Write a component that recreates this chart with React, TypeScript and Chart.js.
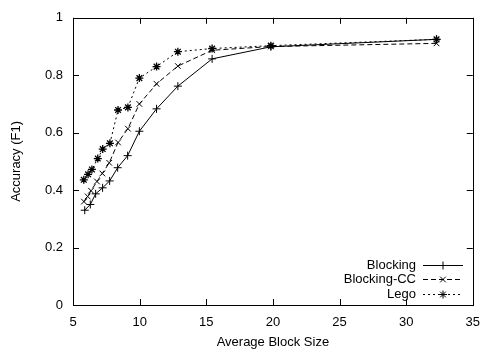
import React, { useEffect, useRef } from "react";
import { Chart, registerables } from "chart.js";

Chart.register(...registerables);

const seriesNames = ["Blocking", "Blocking-CC", "Lego"];

const blockingX = [5.88, 6.3, 6.7, 7.22, 7.75, 8.35, 9.1, 9.98, 11.27, 12.87, 15.44, 19.85, 32.28];
const blockingY = [0.33, 0.35, 0.387, 0.408, 0.432, 0.478, 0.52, 0.605, 0.683, 0.762, 0.857, 0.899, 0.925];

const blockingCCX = [5.82, 6.1, 6.35, 6.8, 7.2, 7.72, 8.38, 9.12, 9.98, 11.27, 12.87, 15.44, 19.85, 32.28];
const blockingCCY = [0.36, 0.378, 0.398, 0.43, 0.458, 0.495, 0.566, 0.614, 0.7, 0.77, 0.832, 0.887, 0.9, 0.911];

const legoX = [5.81, 6.13, 6.42, 6.86, 7.23, 7.77, 8.38, 9.12, 9.98, 11.27, 12.87, 15.44, 19.85, 32.28];
const legoY = [0.436, 0.455, 0.472, 0.51, 0.543, 0.563, 0.679, 0.688, 0.79, 0.83, 0.882, 0.893, 0.903, 0.925];

const xTicks = [5, 10, 15, 20, 25, 30, 35];
const yTicks = [0, 0.2, 0.4, 0.6, 0.8, 1];

const FONT = "'Liberation Sans', Arial, Helvetica, sans-serif";
const pointStyles = ["cross", "crossRot", "star"];
const dashes: number[][] = [[], [5, 3], [2, 3]];

function zip(xs: number[], ys: number[]) {
  return xs.map((x, i) => ({ x, y: ys[i] }));
}

function drawMarker(ctx: CanvasRenderingContext2D, style: string, x: number, y: number, r: number) {
  ctx.save();
  ctx.setLineDash([]);
  ctx.beginPath();
  if (style === "cross" || style === "star") {
    ctx.moveTo(x - r, y);
    ctx.lineTo(x + r, y);
    ctx.moveTo(x, y - r);
    ctx.lineTo(x, y + r);
  }
  if (style === "crossRot" || style === "star") {
    const d = r * Math.SQRT1_2;
    ctx.moveTo(x - d, y - d);
    ctx.lineTo(x + d, y + d);
    ctx.moveTo(x - d, y + d);
    ctx.lineTo(x + d, y - d);
  }
  ctx.stroke();
  ctx.restore();
}

const framePlugin = {
  id: "gnuFrame",
  afterDraw(chart: any) {
    const { ctx, chartArea: a, scales } = chart;
    ctx.save();
    ctx.strokeStyle = "#000";
    ctx.lineWidth = 1;
    ctx.setLineDash([]);
    ctx.strokeRect(Math.round(a.left) + 0.5, Math.round(a.top) + 0.5, Math.round(a.right - a.left), Math.round(a.bottom - a.top));
    const tl = 6;
    ctx.beginPath();
    xTicks.forEach((v) => {
      const px = Math.round(scales.x.getPixelForValue(v)) + 0.5;
      ctx.moveTo(px, a.bottom);
      ctx.lineTo(px, a.bottom - tl);
      ctx.moveTo(px, a.top);
      ctx.lineTo(px, a.top + tl);
    });
    yTicks.forEach((v) => {
      const py = Math.round(scales.y.getPixelForValue(v)) + 0.5;
      ctx.moveTo(a.left, py);
      ctx.lineTo(a.left + tl, py);
      ctx.moveTo(a.right, py);
      ctx.lineTo(a.right - tl, py);
    });
    ctx.stroke();

    // legend
    const rowsY = [264.5, 279, 293.5];
    ctx.font = `13px ${FONT}`;
    ctx.fillStyle = "#000";
    ctx.textAlign = "right";
    ctx.textBaseline = "middle";
    seriesNames.forEach((name, i) => {
      const y = rowsY[i];
      ctx.fillText(name, 416, y + 0.5);
      ctx.setLineDash(dashes[i]);
      ctx.beginPath();
      ctx.moveTo(423, Math.round(y) + 0.5);
      ctx.lineTo(463, Math.round(y) + 0.5);
      ctx.stroke();
      drawMarker(ctx, pointStyles[i], 443, Math.round(y) + 0.5, 4);
    });
    ctx.restore();
  },
};

export default function App() {
  const ref = useRef<HTMLCanvasElement>(null);
  useEffect(() => {
    if (!ref.current) return;
    const mk = (i: number, xs: number[], ys: number[]) => ({
      label: seriesNames[i],
      data: zip(xs, ys),
      showLine: true,
      borderColor: "#000",
      backgroundColor: "#000",
      borderWidth: 1,
      borderDash: dashes[i],
      pointStyle: pointStyles[i],
      pointRadius: 4,
      pointBorderWidth: i === 2 ? 1.3 : 1,
      pointBorderColor: "#000",
      tension: 0,
    });
    const chart = new Chart(ref.current, {
      type: "scatter",
      data: {
        datasets: [mk(0, blockingX, blockingY), mk(1, blockingCCX, blockingCCY), mk(2, legoX, legoY)],
      },
      options: {
        animation: false,
        responsive: false,
        layout: { padding: { top: 12, right: 9, left: 0, bottom: 0 } },
        plugins: { legend: { display: false }, tooltip: { enabled: false } },
        scales: {
          x: {
            type: "linear",
            min: 5,
            max: 35,
            afterBuildTicks: (s: any) => {
              s.ticks = xTicks.map((v) => ({ value: v }));
            },
            afterFit: (s: any) => {
              s.height = 45;
            },
            grid: { display: false, drawTicks: false, tickLength: 0 },
            border: { display: false },
            ticks: { color: "#000", font: { family: FONT, size: 13 }, padding: 10, maxRotation: 0 },
            title: {
              display: true,
              text: "Average Block Size",
              color: "#000",
              font: { family: FONT, size: 13 },
              padding: { top: 3, bottom: 0 },
            },
          },
          y: {
            type: "linear",
            min: 0,
            max: 1,
            afterBuildTicks: (s: any) => {
              s.ticks = yTicks.map((v) => ({ value: v }));
            },
            afterFit: (s: any) => {
              s.width = 73;
            },
            grid: { display: false, drawTicks: false, tickLength: 0 },
            border: { display: false },
            ticks: {
              color: "#000",
              font: { family: FONT, size: 13 },
              padding: 10,
              callback: (v: any) => String(v),
            },
            title: {
              display: true,
              text: "Accuracy (F1)",
              color: "#000",
              font: { family: FONT, size: 13 },
              padding: { top: 9, bottom: 0 },
            },
          },
        },
      },
      plugins: [framePlugin],
    });
    return () => chart.destroy();
  }, []);
  return (
    <div style={{ position: "fixed", left: 0, top: 0, width: 490, height: 350, background: "#fff" }}>
      <canvas ref={ref} width={490} height={350} style={{ width: 490, height: 350 }} />
    </div>
  );
}
